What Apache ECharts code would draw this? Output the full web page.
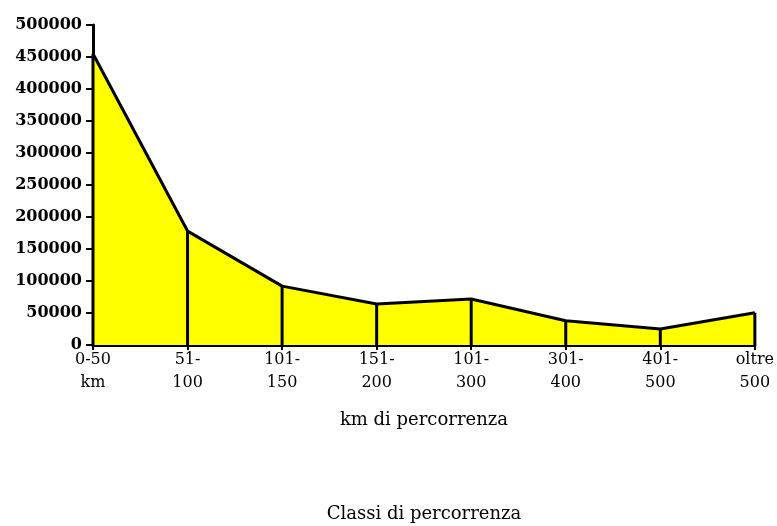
<!DOCTYPE html>
<html>
<head>
<meta charset="utf-8">
<script src="https://cdn.jsdelivr.net/npm/echarts@6/dist/echarts.min.js"></script>
<style>
  html, body { margin: 0; padding: 0; background: #ffffff; }
  #chart { width: 777px; height: 526px; }
</style>
</head>
<body>
<div id="chart"></div>
<script>
// Distance classes (km) and number of trips in each class
const categories = ['0-50\nkm', '51-\n100', '101-\n150', '151-\n200', '101-\n300', '301-\n400', '401-\n500', 'oltre\n500'];
const trips = [455000, 178000, 92000, 64000, 72000, 38000, 25000, 50500];
const yTicks = { min: 0, max: 500000, interval: 50000 };

const serif = 'DejaVu Serif';
const chart = echarts.init(document.getElementById('chart'), null, { renderer: 'canvas' });

chart.setOption({
  backgroundColor: '#ffffff',
  animation: false,
  title: {
    text: 'Classi di percorrenza',
    left: 424,
    textAlign: 'center',
    top: 505,
    padding: 0,
    textStyle: { fontFamily: serif, fontSize: 18, fontWeight: 'normal', color: '#000' }
  },
  grid: { left: 93, right: 22, top: 25, bottom: 181, containLabel: false },
  xAxis: {
    type: 'category',
    data: categories,
    boundaryGap: false,
    name: 'km di percorrenza',
    nameLocation: 'middle',
    nameGap: 66,
    nameTextStyle: { fontFamily: serif, fontSize: 18, color: '#000' },
    axisLine: { lineStyle: { color: '#000', width: 3 } },
    axisTick: { show: true, length: 5, lineStyle: { color: '#000', width: 2 } },
    axisLabel: {
      interval: 0,
      margin: 3,
      fontFamily: serif,
      fontSize: 16,
      lineHeight: 23,
      color: '#000'
    },
    splitLine: { show: false }
  },
  yAxis: {
    type: 'value',
    min: yTicks.min,
    max: yTicks.max,
    interval: yTicks.interval,
    axisLine: { show: true, lineStyle: { color: '#000', width: 3 } },
    axisTick: { show: true, length: 7, lineStyle: { color: '#000', width: 2 } },
    axisLabel: {
      margin: 11,
      fontFamily: serif,
      fontSize: 16,
      fontWeight: 'bold',
      color: '#000',
      formatter: (v) => String(v)
    },
    splitLine: { show: false }
  },
  series: [
    {
      type: 'line',
      data: trips,
      symbol: 'none',
      lineStyle: { color: '#000', width: 3 },
      areaStyle: { color: '#ffff00', opacity: 1 },
      z: 2
    },
    {
      // vertical drop lines from each point down to the axis
      type: 'bar',
      data: trips,
      barWidth: 3,
      itemStyle: { color: '#000' },
      z: 3
    }
  ]
});
</script>
</body>
</html>
